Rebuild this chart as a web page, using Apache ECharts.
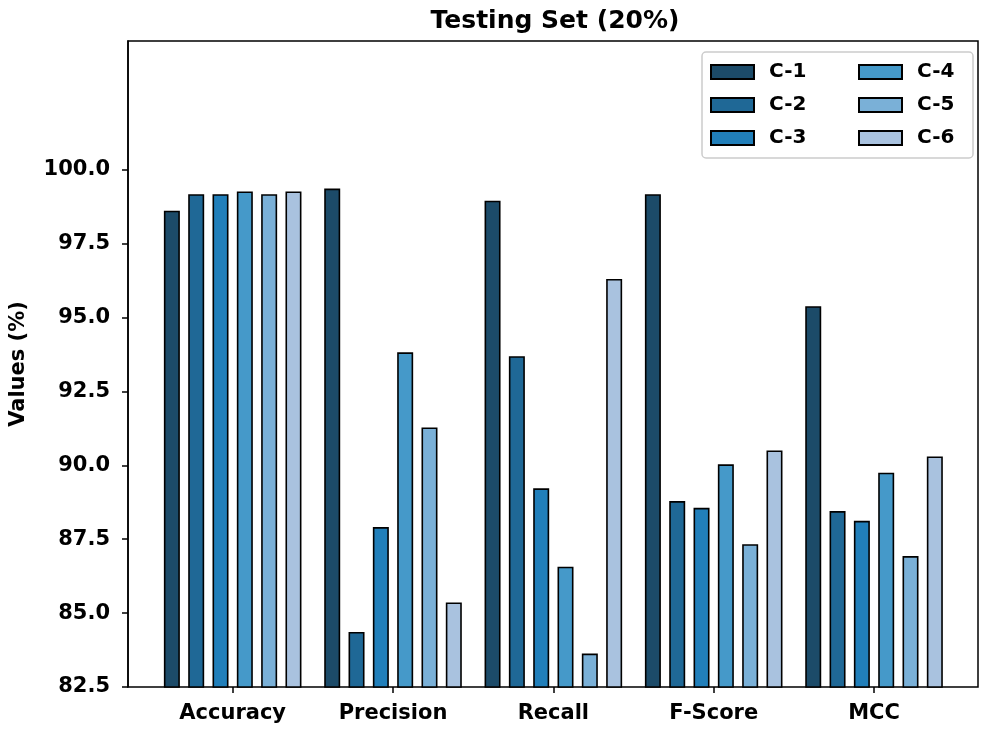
<!DOCTYPE html>
<html>
<head>
<meta charset="utf-8">
<script src="https://cdn.jsdelivr.net/npm/echarts@6/dist/echarts.min.js"></script>
<style>
html,body{margin:0;padding:0;background:#fff;}
#chart{width:991px;height:730px;}
</style>
</head>
<body>
<div id="chart"></div>
<script>
const categories = ['Accuracy', 'Precision', 'Recall', 'F-Score', 'MCC'];
const seriesNames = ['C-1', 'C-2', 'C-3', 'C-4', 'C-5', 'C-6'];
const c1 = [98.61, 99.36, 98.95, 99.17, 95.38];
const c2 = [99.17, 84.36, 93.69, 88.79, 88.45];
const c3 = [99.17, 87.91, 89.22, 88.56, 88.12];
const c4 = [99.26, 93.82, 86.57, 90.03, 89.75];
const c5 = [99.17, 91.28, 83.63, 87.33, 86.93];
const c6 = [99.26, 85.36, 96.30, 90.50, 90.30];
const yTicks = [82.5, 85.0, 87.5, 90.0, 92.5, 95.0, 97.5, 100.0];
const colors = ['#1c4b69', '#1f6896', '#217fba', '#4599c9', '#7ab0d7', '#a9c2df'];

const allValues = [c1, c2, c3, c4, c5, c6];
const FONT = 'DejaVu Sans';
const yMin = 82.5, yMax = 104.35;

const chart = echarts.init(document.getElementById('chart'), null, {renderer: 'canvas'});

const series = seriesNames.map((name, i) => ({
  name: name,
  type: 'bar',
  xAxisIndex: 1,
  yAxisIndex: 1,
  data: allValues[i],
  barWidth: 16,
  barGap: '52%',
  itemStyle: {color: colors[i], borderColor: '#000', borderWidth: 1.6},
  emphasis: {disabled: true},
  animation: false
}));

const legendCommon = {
  orient: 'vertical',
  icon: 'rect',
  itemWidth: 43,
  itemHeight: 14,
  itemGap: 13,
  padding: 0,
  textStyle: {fontFamily: FONT, fontWeight: 'bold', fontSize: 20, lineHeight: 20, color: '#000', padding: [0, 0, 0, 10]},
  selectedMode: false
};

chart.setOption({
  animation: false,
  backgroundColor: '#fff',
  title: {
    text: 'Testing Set (20%)',
    left: 550,
    textAlign: 'center',
    top: 4,
    textStyle: {fontFamily: FONT, fontWeight: 'bold', fontSize: 25, color: '#000'}
  },
  legend: [
    Object.assign({data: seriesNames.slice(0, 3), left: 710, top: 62}, legendCommon),
    Object.assign({data: seriesNames.slice(3, 6), left: 858, top: 62}, legendCommon)
  ],
  graphic: [{
    type: 'rect',
    shape: {x: 702, y: 52, width: 271, height: 106, r: 4},
    style: {fill: 'rgba(255,255,255,0.8)', stroke: '#cccccc', lineWidth: 1.5},
    z: 0
  }],
  grid: [
    {left: 122, right: 13, top: 41, bottom: 43, show: true, borderColor: '#000', borderWidth: 1.5, backgroundColor: 'transparent', containLabel: false},
    {left: 152.5, right: 36.8, top: 41, bottom: 43, containLabel: false}
  ],
  xAxis: [
    {type: 'value', gridIndex: 0, min: 0, max: 1, show: false},
    {
      type: 'category', gridIndex: 1, data: categories,
      axisLine: {show: false},
      axisTick: {show: true, alignWithLabel: true, length: 6, lineStyle: {color: '#000', width: 1.5}},
      axisLabel: {fontFamily: FONT, fontWeight: 'bold', fontSize: 21, color: '#000', margin: 16}
    }
  ],
  yAxis: [
    {
      type: 'value', gridIndex: 0, min: yMin, max: yMax,
      name: 'Values (%)', nameLocation: 'middle', nameGap: 99,
      nameTextStyle: {fontFamily: FONT, fontWeight: 'bold', fontSize: 21, color: '#000'},
      axisLine: {show: true, lineStyle: {color: '#000', width: 1.5}},
      axisTick: {show: true, length: 6, customValues: yTicks, lineStyle: {color: '#000', width: 1.5}},
      axisLabel: {fontFamily: FONT, fontWeight: 'bold', fontSize: 21, color: '#000', margin: 18,
        customValues: yTicks, formatter: v => Number(v).toFixed(1)},
      splitLine: {show: false}
    },
    {type: 'value', gridIndex: 1, min: yMin, max: yMax, show: false, splitLine: {show: false}}
  ],
  series: series
});
</script>
</body>
</html>
